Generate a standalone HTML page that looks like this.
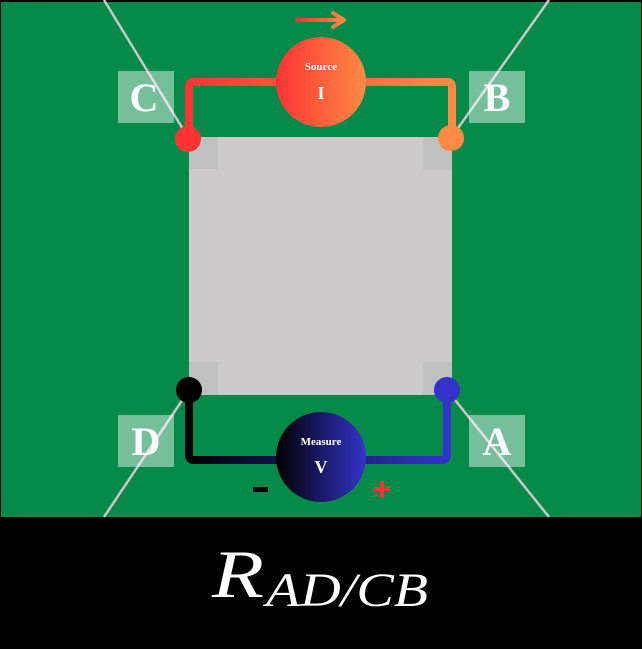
<!DOCTYPE html>
<html><head><meta charset="utf-8"><style>
html,body{margin:0;padding:0;background:#000;}
svg{display:block;}
</style></head><body>
<svg width="642" height="649" viewBox="0 0 642 649" xmlns="http://www.w3.org/2000/svg">
<defs>
<linearGradient id="gs" x1="0" x2="1" y1="0" y2="0"><stop offset="0" stop-color="#ff3333"/><stop offset="1" stop-color="#ff8a44"/></linearGradient>
<linearGradient id="gm" x1="0" x2="1" y1="0" y2="0"><stop offset="0" stop-color="#000000"/><stop offset="1" stop-color="#3333cc"/></linearGradient>
</defs>
<rect x="0" y="0" width="642" height="649" fill="#000"/>
<rect x="1" y="2" width="640" height="515" fill="#068a49"/>
<g stroke="#c8c8c8" stroke-width="2.5">
<line x1="104" y1="0" x2="189" y2="139"/>
<line x1="549" y1="0" x2="451" y2="138"/>
<line x1="104" y1="517" x2="189" y2="390"/>
<line x1="549" y1="517" x2="447" y2="390"/>
</g>
<rect x="189" y="137" width="263" height="258" fill="#cccacb"/>
<g fill="#c0c0c0">
<rect x="189" y="137" width="29" height="32"/><rect x="423" y="137" width="29" height="33"/>
<rect x="189" y="362" width="29" height="33"/><rect x="423" y="362" width="29" height="33"/>
</g>
<g fill="#ffffff" fill-opacity="0.45">
<rect x="118" y="71" width="56" height="52"/><rect x="469" y="71" width="56" height="52"/>
<rect x="118" y="415" width="56" height="52"/><rect x="469" y="415" width="56" height="52"/>
</g>
<g fill="#fff" font-family="Liberation Serif, serif" font-weight="bold" font-size="40" text-anchor="middle">
<text x="144" y="111">C</text>
<text x="497" y="111">B</text>
<text x="146" y="455">D</text>
<text x="497" y="455">A</text>
</g>
<path d="M189 139 V87 Q189 82 194 82 H447 Q452 82 452 87 V138" fill="none" stroke="url(#gs)" stroke-width="8"/>
<path d="M189 390 V455 Q189 460 194 460 H442 Q447 460 447 455 V390" fill="none" stroke="url(#gm)" stroke-width="8"/>
<path d="M297 20 H343 M333 13 L344 20 L333 27" fill="none" stroke="url(#gs)" stroke-width="4" stroke-linecap="round" stroke-linejoin="round"/>
<circle cx="321" cy="82" r="45" fill="url(#gs)"/>
<circle cx="321" cy="457" r="45" fill="url(#gm)"/>
<g fill="#fff" font-family="Liberation Serif, serif" font-weight="bold" text-anchor="middle">
<text x="321" y="70" font-size="11">Source</text>
<text x="321" y="99" font-size="18">I</text>
<text x="321" y="445" font-size="11">Measure</text>
<text x="321" y="473" font-size="18">V</text>
</g>
<circle cx="188" cy="139" r="13" fill="#ff3333"/>
<circle cx="451" cy="138" r="13" fill="#ff8a44"/>
<circle cx="189" cy="390" r="13" fill="#000"/>
<circle cx="447" cy="390" r="13" fill="#3333cc"/>
<rect x="253" y="487" width="15" height="5" fill="#000"/>
<g fill="#ff3333"><rect x="374" y="487" width="16" height="4"/><rect x="380" y="481" width="4" height="16"/></g>
<g fill="#fff" font-family="Liberation Serif, serif" font-style="italic">
<text x="212" y="597" font-size="68" textLength="52" lengthAdjust="spacingAndGlyphs">R</text>
<text x="266" y="606" font-size="48" textLength="162" lengthAdjust="spacingAndGlyphs">AD/CB</text>
</g>
</svg>
</body></html>
